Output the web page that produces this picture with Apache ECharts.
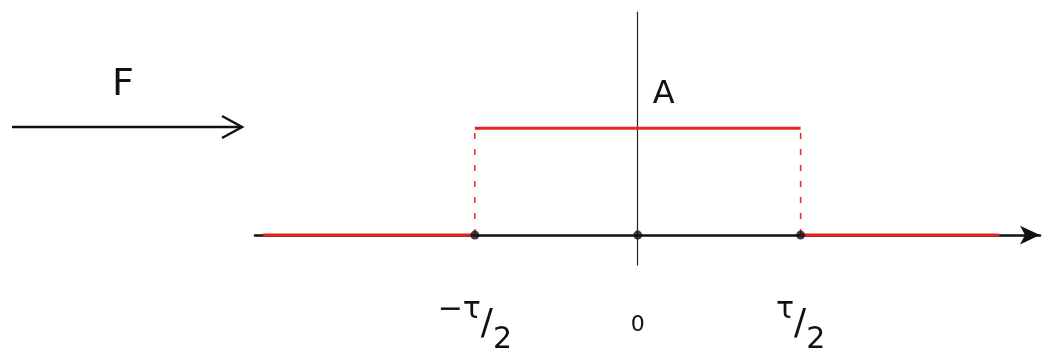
<!DOCTYPE html>
<html>
<head>
<meta charset="utf-8">
<script src="https://cdn.jsdelivr.net/npm/echarts@6/dist/echarts.min.js"></script>
<style>
  html, body { margin: 0; padding: 0; background: #fff; }
  #chart { width: 1054px; height: 355px; }
</style>
</head>
<body>
<div id="chart"></div>
<script>
// Rectangle pulse: amplitude A between -τ/2 and τ/2 (units of τ/2)
const A = 1;
const lowLeft = [[-2.3, 0], [-1, 0]];
const pulseTop = [[-1, A], [1, A]];
const lowRight = [[1, 0], [2.22, 0]];
const jumpLeft = [[-1, 0], [-1, A]];
const jumpRight = [[1, 0], [1, A]];
const tickValues = [-1, 0, 1];
const tickLabels = ['{m|−τ}{s|/}{d|2}', '{z|0}', '{m|τ}{s|/}{d|2}'];

const red = '#e8251c';
const ink = '#111111';

const chartDom = document.getElementById('chart');
const chart = echarts.init(chartDom);

const labelRich = {
    m: { fontSize: 30, verticalAlign: 'top', lineHeight: 60, fontFamily: 'DejaVu Sans', color: ink },
    s: { fontSize: 36, verticalAlign: 'middle', lineHeight: 60, fontFamily: 'DejaVu Sans', color: ink },
    d: { fontSize: 30, verticalAlign: 'bottom', lineHeight: 60, fontFamily: 'DejaVu Sans', color: ink },
    z: { fontSize: 22, lineHeight: 60, fontFamily: 'DejaVu Sans', color: ink }
};

function segment(data, dashed) {
    return {
        type: 'line',
        data: data,
        symbol: 'none',
        silent: true,
        lineStyle: {
            color: red,
            width: dashed ? 1.5 : 3,
            type: dashed ? [6, 10] : 'solid'
        },
        z: 3
    };
}

let option = {
    animation: false,
    grid: { left: 255, right: 14, top: 12, bottom: 82 },
    xAxis: {
        type: 'value',
        min: -2.35,
        max: 2.47,
        splitLine: { show: false },
        axisLine: {
            onZero: true,
            lineStyle: { color: ink, width: 2.5 },
            symbol: ['none', 'arrow'],
            symbolSize: [14, 20]
        },
        axisTick: { show: false },
        axisLabel: {
            customValues: tickValues,
            margin: 30,
            formatter: function (v) {
                return tickLabels[tickValues.indexOf(v)] || '';
            },
            rich: labelRich
        }
    },
    yAxis: {
        type: 'value',
        min: -0.28,
        max: 2.09,
        splitLine: { show: false },
        axisLine: { onZero: true, lineStyle: { color: '#222', width: 1.2 } },
        axisTick: { show: false },
        axisLabel: { show: false }
    },
    series: [
        segment(lowLeft, false),
        segment(pulseTop, false),
        segment(lowRight, false),
        segment(jumpLeft, true),
        segment(jumpRight, true),
        {
            type: 'scatter',
            data: tickValues.map(v => [v, 0]),
            symbolSize: 9,
            itemStyle: { color: ink },
            silent: true,
            z: 4
        },
        {
            type: 'scatter',
            data: [[0, A]],
            symbolSize: 0,
            silent: true,
            label: {
                show: true,
                formatter: 'A',
                position: 'right',
                offset: [10, -34],
                fontSize: 32,
                fontFamily: 'DejaVu Sans',
                color: ink,
                opacity: 1
            }
        }
    ],
    // Transform arrow with its "F" label, on the left
    graphic: [
        {
            type: 'line',
            shape: { x1: 12, y1: 127, x2: 240, y2: 127 },
            style: { stroke: ink, lineWidth: 2.5 }
        },
        {
            type: 'polyline',
            shape: { points: [[222, 116], [242, 127], [222, 138]] },
            style: { stroke: ink, lineWidth: 2.5, fill: 'none' }
        },
        {
            type: 'text',
            left: 112,
            top: 66,
            style: { text: 'F', fontSize: 38, fontFamily: 'DejaVu Sans', fill: ink }
        }
    ]
};

option && chart.setOption(option);
</script>
</body>
</html>
